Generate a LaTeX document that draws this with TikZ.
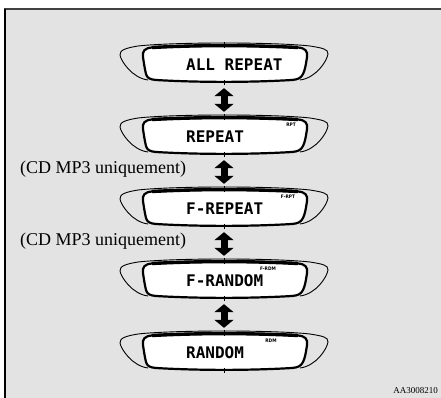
\documentclass[tikz,border=0pt]{standalone}
\usepackage{fontspec}
\setmainfont{Liberation Serif}
\newfontfamily\lcdfont{DejaVu Sans Mono}
\newfontfamily\indfont{DejaVu Sans Condensed}
\usetikzlibrary{arrows.meta}
\definecolor{bg}{HTML}{E3E3E3}
\tikzset{
  wing/.style={line width=0.9pt},
  lcdbox/.style={line width=2.2pt, fill=white},
  lcdtop/.style={line width=3.4pt},
  tick/.style={line width=0.5pt},
  lcdtext/.style={font=\lcdfont\bfseries\fontsize{16}{16}\selectfont, anchor=west, inner sep=0pt},
  ind/.style={font=\indfont\bfseries\fontsize{4.8}{4.8}\selectfont, inner sep=0pt},
  holder/.style={minimum width=166pt, minimum height=36pt, inner sep=0pt},
  link/.style={line width=7pt, {Triangle[width=19pt,length=8pt]}-{Triangle[width=19pt,length=8pt]}, shorten <=6pt, shorten >=6pt},
  note/.style={font=\fontsize{18}{18}\selectfont, anchor=west, inner sep=0pt},
}
\newcommand\lcddisplay[6]{% name, cx, cy, text, indicator, indicator x
  \begin{scope}[shift={(#2,#3)}]
    \draw[wing] (-76,16) .. controls (-92,14) and (-103,-3) .. (-104,-9)
      .. controls (-104.5,-14) and (-98,-16) .. (-86,-18)
      .. controls (-50,-22) and (50,-22) .. (86,-18)
      .. controls (98,-16) and (104.5,-15) .. (104,-10)
      .. controls (103,-3) and (92,14) .. (76,16);
    \draw[lcdbox] (-72,-16.5) .. controls (-25,-19) and (25,-19) .. (74,-16.5)
      .. controls (81,-16) and (84,-13) .. (83,-7)
      .. controls (82,0) and (81,6) .. (79,10)
      .. controls (77,14) and (74,15.5) .. (68,16)
      .. controls (25,18.5) and (-25,18.5) .. (-68,16)
      .. controls (-74,15.5) and (-77,14) .. (-78,10)
      .. controls (-79,6) and (-80,0) .. (-81,-7)
      .. controls (-82,-13) and (-79,-16) .. cycle;
    \draw[lcdtop] (-72,-16.5) .. controls (-25,-19) and (25,-19) .. (74,-16.5);
    \draw[tick] (0,-22) -- (0,-16);
    \draw[tick] (0,16) -- (0,21);
    \node[lcdtext] at (-38,1) {#4};
    \node[ind] at (#6,-11) {#5};
    \node[holder] (#1) at (0,0) {};
  \end{scope}}
\begin{document}
\begin{tikzpicture}[x=1pt,y=-1pt]
  \useasboundingbox (0,0) rectangle (441,398);
  \fill[bg] (5,9) rectangle (441,398);
  \draw[line width=2pt, black!75] (4,9) -- (441,9);
  \draw[line width=2pt] (5,9) -- (5,398);
  \lcddisplay{d1}{224}{64}{ALL REPEAT}{}{0}
  \lcddisplay{d2}{224}{136}{REPEAT}{RPT}{67}
  \lcddisplay{d3}{224}{208}{F-REPEAT}{F-RPT}{64}
  \lcddisplay{d4}{224}{280}{F-RANDOM}{F-RDM}{44}
  \lcddisplay{d5}{224}{352}{RANDOM}{RDM}{47}
  \draw[link] (d1.south) -- (d2.north);
  \draw[link] (d2.south) -- (d3.north);
  \draw[link] (d3.south) -- (d4.north);
  \draw[link] (d4.south) -- (d5.north);
  \node[note] (n1) at (20,169) {(CD MP3 uniquement)};
  \node[note] (n2) at (20,241) {(CD MP3 uniquement)};
  \node[font=\fontsize{9}{9}\selectfont, anchor=east, inner sep=0pt] (code) at (438,391) {AA3008210};
\end{tikzpicture}
\end{document}
